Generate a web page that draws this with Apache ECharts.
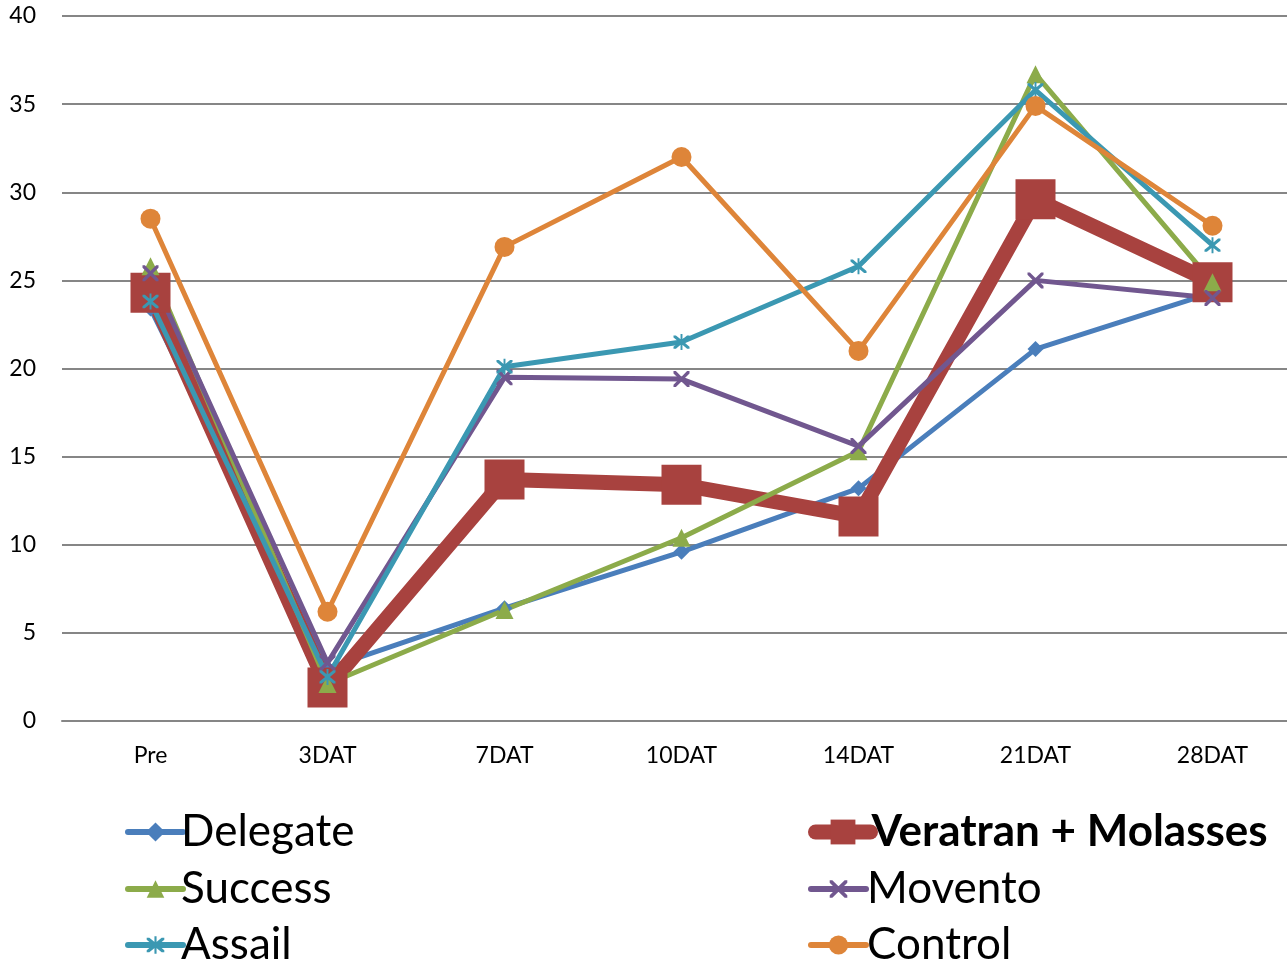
<!DOCTYPE html>
<html>
<head>
<meta charset="utf-8">
<script src="https://cdn.jsdelivr.net/npm/echarts@6/dist/echarts.min.js"></script>
<style>
html,body{margin:0;padding:0;background:#fff;}
#main{width:1287px;height:962px;}
</style>
</head>
<body>
<div id="main"></div>
<script>
// categories and tick values
var categories = ['Pre', '3DAT', '7DAT', '10DAT', '14DAT', '21DAT', '28DAT'];
var yTicks = [0, 5, 10, 15, 20, 25, 30, 35, 40];

// series values
var delegate = [23.4, 3.0, 6.4, 9.6, 13.2, 21.1, 24.3];
var veratran = [24.3, 1.9, 13.7, 13.4, 11.6, 29.6, 24.9];
var success  = [25.8, 2.1, 6.3, 10.4, 15.3, 36.7, 24.9];
var movento  = [25.4, 3.3, 19.5, 19.4, 15.6, 25.0, 24.0];
var assail   = [23.8, 2.5, 20.1, 21.5, 25.8, 35.8, 27.0];
var control  = [28.5, 6.2, 26.9, 32.0, 21.0, 34.9, 28.1];

var FONT = 'Lato, "Open Sans", sans-serif';
var xMark = 'path://M0,0 L3,0 L10,7 L17,0 L20,0 L20,3 L13,10 L20,17 L20,20 L17,20 L10,13 L3,20 L0,20 L0,17 L7,10 L0,3 Z';
var starMark = 'path://M0,0 L3,0 L10,7 L17,0 L20,0 L20,3 L13,10 L20,17 L20,20 L17,20 L10,13 L3,20 L0,20 L0,17 L7,10 L0,3 Z M8.8,-2 L11.2,-2 L11.2,22 L8.8,22 Z';

// legend reading order (row by row, two columns)
var defs = [
  {name:'Delegate',            data:delegate, color:'#4A7EBB', symbol:'diamond',  size:16, width:5,  icon:24, lw:6},
  {name:'Veratran + Molasses', data:veratran, color:'#A8423F', symbol:'rect',     size:40, width:15, icon:31, lw:15, bold:true},
  {name:'Success',             data:success,  color:'#8CAB4A', symbol:'triangle', size:18, width:5,  icon:22, lw:6},
  {name:'Movento',             data:movento,  color:'#71578F', symbol:xMark,      size:16, width:5,  icon:22, lw:6},
  {name:'Assail',              data:assail,   color:'#3B98B2', symbol:starMark,   size:16, width:5,  icon:22, lw:6},
  {name:'Control',             data:control,  color:'#DE8539', symbol:'circle',   size:20, width:5,  icon:24, lw:6}
];

var series = [];
var legends = [];
var rowY = [832, 889, 945];
for (var i = 0; i < defs.length; i++) {
  var d = defs[i];
  series.push({
    name: d.name,
    type: 'line',
    data: d.data,
    symbol: d.symbol,
    symbolSize: d.size,
    showAllSymbol: true,
    lineStyle: {color: d.color, width: d.width, join: 'round', cap: 'round'},
    itemStyle: {color: d.color, borderWidth: 0},
    emphasis: {disabled: true},
    animation: false
  });
  legends.push({
    data: [{
      name: d.name,
      lineStyle: {color: d.color, width: d.lw, cap: 'round'},
      textStyle: {fontWeight: d.bold ? 'bold' : 'normal'}
    }],
    left: (i % 2) ? 808 : 125,
    top: rowY[Math.floor(i / 2)] - 24,
    padding: 0,
    itemWidth: 55,
    itemHeight: d.icon,
    itemGap: 0,
    selectedMode: false,
    textStyle: {fontFamily: FONT, fontSize: 44, color: '#000', lineHeight: 48, padding: [0, 0, 0, (i % 2) ? -4 : -7]}
  });
}

var chart = echarts.init(document.getElementById('main'), null, {renderer: 'canvas'});
chart.setOption({
  backgroundColor: '#fff',
  animation: false,
  legend: legends,
  grid: {left: 62, width: 1239, top: 16, bottom: 241, containLabel: false, outerBoundsMode: 'none'},
  xAxis: {
    type: 'category',
    data: categories,
    boundaryGap: true,
    axisLine: {show: true, lineStyle: {color: '#868686', width: 2}},
    axisTick: {show: false},
    axisLabel: {fontFamily: FONT, fontSize: 23, color: '#000', margin: 23}
  },
  yAxis: {
    type: 'value',
    min: yTicks[0],
    max: yTicks[yTicks.length - 1],
    interval: yTicks[1] - yTicks[0],
    axisLine: {show: false},
    axisTick: {show: false},
    splitLine: {lineStyle: {color: '#868686', width: 2}},
    axisLabel: {fontFamily: FONT, fontSize: 23, color: '#000', margin: 26}
  },
  series: series
});
</script>
</body>
</html>
